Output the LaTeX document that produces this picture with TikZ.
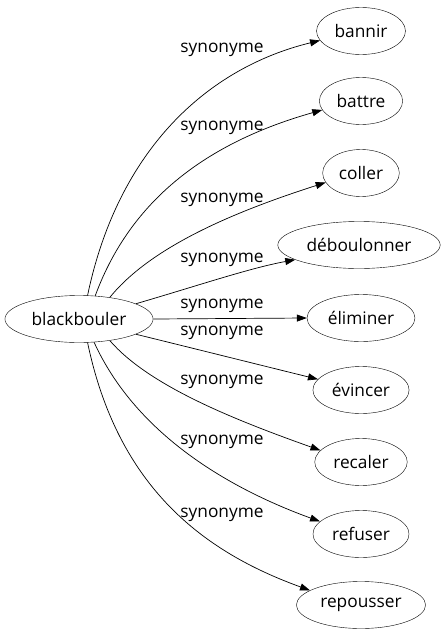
\documentclass[tikz,border=0pt]{standalone}
\usepackage{fontspec}
\setmainfont{Open Sans}
\usetikzlibrary{shapes.geometric,arrows.meta}
\begin{document}
\begin{tikzpicture}[x=1pt,y=-1pt,
  word/.style={draw,ellipse,minimum height=47pt,inner xsep=5pt,inner ysep=2pt,font=\fontsize{17.3}{20}\selectfont},
  rel/.style={font=\fontsize{17.3}{20}\selectfont,inner sep=0pt},
  link/.style={-{Triangle[length=10pt,width=7pt]},line width=0.7pt}]
\useasboundingbox (0,0) rectangle (446,635);
\node[word] (bl) at (79,319) {blackbouler};
\node[word] (n1) at (361,31) {bannir};
\node[word] (n2) at (361,101) {battre};
\node[word] (n3) at (361,173) {coller};
\node[word] (n4) at (359,245) {déboulonner};
\node[word] (n5) at (361,318) {éliminer};
\node[word] (n6) at (361,390) {évincer};
\node[word] (n7) at (361,462) {recaler};
\node[word] (n8) at (361,534) {refuser};
\node[word] (n9) at (361,605) {repousser};
\draw[link] (bl.70) .. controls (118,150) and (207,68) .. (n1.193);
\draw[link] (bl.55) .. controls (133,193) and (216,140) .. (n2.193);
\draw[link] (bl.35) .. controls (153,244) and (243,209) .. (n3.195);
\draw[link] (bl.15) .. controls (200,285) and (250,268) .. (n4.193);
\draw[link] (bl.east) -- (n5.west);
\draw[link] (bl.-15) .. controls (200,350) and (260,365) .. (n6.166);
\draw[link] (bl.-35) .. controls (149,386) and (235,420) .. (n7.164);
\draw[link] (bl.-57) .. controls (135,432) and (225,487) .. (n8.163);
\draw[link] (bl.-70) .. controls (118,488) and (204,552) .. (n9.164);
\node[rel] (l1) at (222,50) {synonyme};
\node[rel] (l2) at (222,128) {synonyme};
\node[rel] (l3) at (222,200) {synonyme};
\node[rel] (l4) at (222,260) {synonyme};
\node[rel] (l5) at (222,306) {synonyme};
\node[rel] (l6) at (222,333) {synonyme};
\node[rel] (l7) at (222,382) {synonyme};
\node[rel] (l8) at (222,442) {synonyme};
\node[rel] (l9) at (222,515) {synonyme};
\end{tikzpicture}
\end{document}
